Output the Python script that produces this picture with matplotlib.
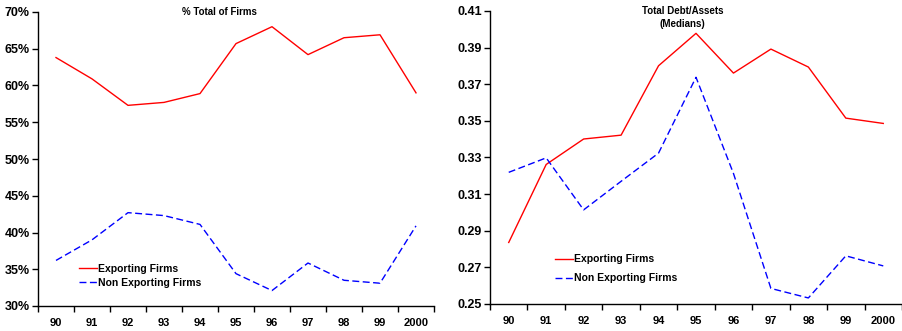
import numpy as np
import matplotlib
matplotlib.use('Agg')
import matplotlib.pyplot as plt
from matplotlib.ticker import FixedLocator, FuncFormatter

plt.rcParams['font.family'] = ['Liberation Sans', 'DejaVu Sans']
plt.rcParams['font.weight'] = 'bold'

years = ['90', '91', '92', '93', '94', '95', '96', '97', '98', '99', '2000']

# % total of firms
share_exp = [63.8, 60.9, 57.3, 57.7, 58.9, 65.7, 68.0, 64.2, 66.5, 66.9, 59.0]
share_nonexp = [36.2, 39.0, 42.7, 42.3, 41.1, 34.4, 32.1, 35.85, 33.5, 33.1, 40.9]

# total debt / assets (medians)
debt_exp = [0.2836, 0.3262, 0.3401, 0.3422, 0.3801, 0.3978, 0.3761, 0.3892, 0.3794, 0.3515, 0.3486]
debt_nonexp = [0.3219, 0.3298, 0.3014, 0.3170, 0.3324, 0.3738, 0.3213, 0.2585, 0.2533, 0.2763, 0.2708]

W, H = 902, 331
fig = plt.figure(figsize=(W / 100, H / 100), dpi=100)


def px_axes(x0, y0, x1, y1):
    return fig.add_axes([x0 / W, 1 - y1 / H, (x1 - x0) / W, (y1 - y0) / H])


def style(ax):
    n = len(years)
    x = np.arange(n)
    ax.set_xlim(-0.5, n - 0.5)
    ax.xaxis.set_major_locator(FixedLocator(np.arange(-0.5, n, 1.0)))
    ax.xaxis.set_major_formatter(FuncFormatter(lambda v, p: ''))
    ax.xaxis.set_minor_locator(FixedLocator(x))
    ax.set_xticklabels(years, minor=True)
    ax.tick_params(axis='x', which='major', direction='out', length=4, width=1)
    ax.tick_params(axis='x', which='minor', length=0, pad=9, labelsize=8)
    ax.tick_params(axis='y', direction='out', length=4, width=1, labelsize=9, pad=2)
    for s in ['top', 'right']:
        ax.spines[s].set_visible(False)
    for s in ['left', 'bottom']:
        ax.spines[s].set_linewidth(1)
    ax.set_facecolor('white')


x = np.arange(len(years))

# left panel
ax1 = px_axes(38, 12, 434, 306)
ax1.plot(x, share_exp, color='#FF0000', lw=1, label='Exporting Firms')
ax1.plot(x, share_nonexp, color='#0000FF', lw=1, dashes=(5, 2.5), label='Non Exporting Firms')
ax1.set_ylim(30, 70)
ax1.set_yticks(np.arange(30, 71, 5))
ax1.yaxis.set_major_formatter(FuncFormatter(lambda v, p: f'{v:.0f}%'))
style(ax1)
ax1.text(0.457, 1.0, '% Total of Firms', transform=ax1.transAxes, ha='center', va='center',
         fontsize=7, fontweight='bold')
ax1.legend(loc='center left', bbox_to_anchor=(0.085, 0.103), frameon=False, fontsize=7.5,
           handlelength=1.7, handletextpad=0.1, labelspacing=0.35, borderpad=0.2)

# right panel
ax2 = px_axes(490, 11, 902, 304)
ax2.plot(x, debt_exp, color='#FF0000', lw=1, label='Exporting Firms')
ax2.plot(x, debt_nonexp, color='#0000FF', lw=1, dashes=(5, 2.5), label='Non Exporting Firms')
ax2.set_ylim(0.25, 0.41)
ax2.set_yticks(np.arange(0.25, 0.4101, 0.02))
ax2.yaxis.set_major_formatter(FuncFormatter(lambda v, p: f'{v:.2f}'))
style(ax2)
ax2.text(0.468, 1.0 + 5 / 293, 'Total Debt/Assets\n(Medians)', transform=ax2.transAxes,
         ha='center', va='top', fontsize=7, fontweight='bold', linespacing=1.35)
ax2.legend(loc='center left', bbox_to_anchor=(0.14, 0.12), frameon=False, fontsize=7.5,
           handlelength=1.7, handletextpad=0.1, labelspacing=0.85, borderpad=0.2)

fig.savefig('out.png', dpi=100)
